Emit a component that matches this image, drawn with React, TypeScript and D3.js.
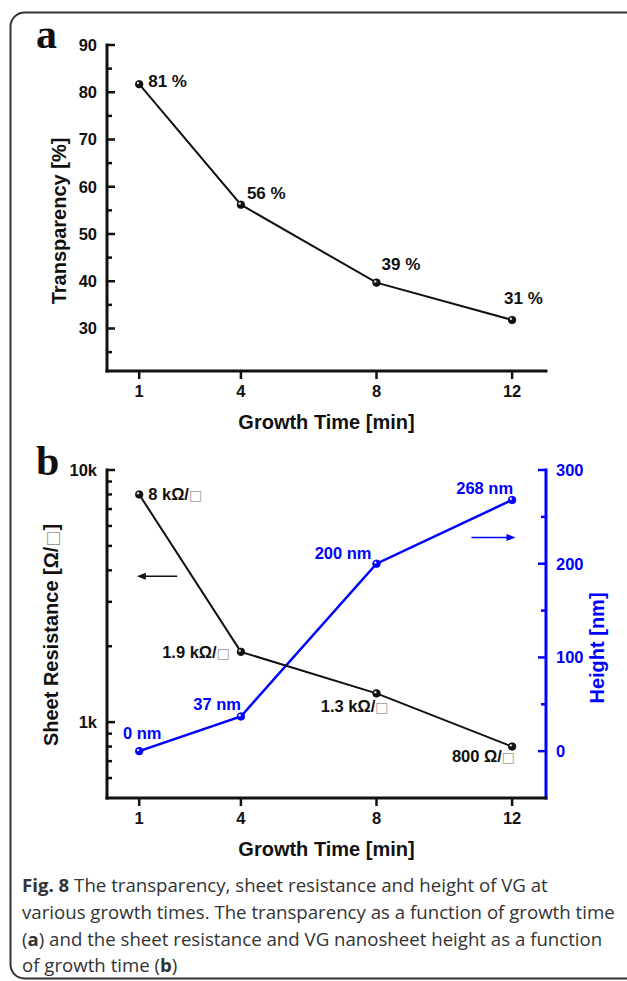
import * as d3 from 'd3'
import React, { useEffect, useRef } from 'react'

// growth times and measured values
const timeMin = [1, 4, 8, 12]
const transparency = [81.7, 56.2, 39.7, 31.8]
const transparencyLabels = ['81 %', '56 %', '39 %', '31 %']
const sheetResistance = [8000, 1900, 1300, 800]
const resistanceLabels = ['8 kΩ/', '1.9 kΩ/', '1.3 kΩ/', '800 Ω/']
const heightNm = [0, 37, 200, 268]
const heightLabels = ['0 nm', '37 nm', '200 nm', '268 nm']

// ticks
const xTicks = [1, 4, 8, 12]
const transTicks = [30, 40, 50, 60, 70, 80, 90]
const transMinor = [25, 35, 45, 55, 65, 75, 85]
const resTicks = [1000, 10000]
const resTickLabels = ['1k', '10k']
const resMinor = [600, 700, 800, 900, 2000, 3000, 4000, 5000, 6000, 7000, 8000, 9000]
const heightTicks = [0, 100, 200, 300]
const heightMinor = [50, 150, 250]

const captionLines = [
  [['Fig. 8', true], [' The transparency, sheet resistance and height of VG at', false]],
  [['various growth times. The transparency as a function of growth time', false]],
  [['(', false], ['a', true], [') and the sheet resistance and VG nanosheet height as a function', false]],
  [['of growth time (', false], ['b', true], [')', false]]
]

const FONT = "'Liberation Sans', Arial, sans-serif"
const BLUE = '#0000ff'
const INK = '#111'

export default function App() {
  const ref = useRef<SVGSVGElement>(null)

  useEffect(() => {
    document.body.style.margin = '0'
    const svg = d3.select(ref.current)
    svg.selectAll('*').remove()

    // frame
    svg.append('rect')
      .attr('x', 10.5).attr('y', 12.5)
      .attr('width', 700).attr('height', 966)
      .attr('rx', 14)
      .attr('fill', 'none').attr('stroke', '#333').attr('stroke-width', 2)

    const left = 107
    const right = 546
    const x = d3.scaleLinear().domain([0.05, 13]).range([left, right])

    const txt = (g: any, s: string, px: number, py: number, anchor: string, size: number, color = INK) =>
      g.append('text')
        .attr('x', px).attr('y', py)
        .attr('text-anchor', anchor)
        .attr('font-family', FONT).attr('font-weight', 'bold')
        .attr('font-size', size).attr('fill', color)
        .text(s)

    const xAxis = (base: number) => {
      svg.append('line')
        .attr('x1', left - 1.5).attr('x2', right + 1.5)
        .attr('y1', base).attr('y2', base)
        .attr('stroke', INK).attr('stroke-width', 3)
      xTicks.forEach(t => {
        svg.append('line')
          .attr('x1', x(t)).attr('x2', x(t))
          .attr('y1', base).attr('y2', base + 8)
          .attr('stroke', INK).attr('stroke-width', 2.5)
        txt(svg, String(t), x(t), base + 26, 'middle', 16.5)
      })
      txt(svg, 'Growth Time [min]', (left + right) / 2, base + 58, 'middle', 20)
    }

    const yAxis = (scale: any, ax: number, major: number[], labels: string[], minor: number[], dir: number, color: string) => {
      const [r0, r1] = scale.range()
      svg.append('line')
        .attr('x1', ax).attr('x2', ax)
        .attr('y1', r0 + 1.5).attr('y2', r1 - 1.5)
        .attr('stroke', color).attr('stroke-width', 3)
      major.forEach((v, i) => {
        svg.append('line')
          .attr('x1', ax).attr('x2', ax + dir * 8)
          .attr('y1', scale(v)).attr('y2', scale(v))
          .attr('stroke', color).attr('stroke-width', 2.5)
        txt(svg, labels[i], ax - dir * 10, scale(v) + 6, dir > 0 ? 'end' : 'start', 16.5, color)
      })
      minor.forEach(v => {
        svg.append('line')
          .attr('x1', ax).attr('x2', ax + dir * 5)
          .attr('y1', scale(v)).attr('y2', scale(v))
          .attr('stroke', color).attr('stroke-width', 2.5)
      })
    }

    const dots = (xs: number[], ys: number[], sy: any, color: string) => {
      xs.forEach((t, i) => {
        svg.append('circle')
          .attr('cx', x(t)).attr('cy', sy(ys[i])).attr('r', 3.8)
          .attr('fill', color).attr('stroke', color).attr('stroke-width', 0.8)
        svg.append('circle')
          .attr('cx', x(t) - 1.2).attr('cy', sy(ys[i]) - 1.2).attr('r', 1.2)
          .attr('fill', '#fff').attr('opacity', 0.85)
      })
    }

    const series = (xs: number[], ys: number[], sy: any, color: string, w: number) => {
      const line = d3.line<number>().x((_, i) => x(xs[i])).y(d => sy(d))
      svg.append('path').attr('d', line(ys)).attr('fill', 'none')
        .attr('stroke', color).attr('stroke-width', w)
      dots(xs, ys, sy, color)
    }

    const arrow = (x1: number, x2: number, py: number, color: string) => {
      const d = Math.sign(x2 - x1)
      svg.append('line')
        .attr('x1', x1).attr('x2', x2 - d * 6).attr('y1', py).attr('y2', py)
        .attr('stroke', color).attr('stroke-width', 1.6)
      svg.append('path')
        .attr('d', `M${x2},${py} L${x2 - d * 9},${py - 3.5} L${x2 - d * 9},${py + 3.5} Z`)
        .attr('fill', color)
    }

    const panelLetter = (s: string, py: number) =>
      svg.append('text').attr('x', 36).attr('y', py)
        .attr('font-family', "'Liberation Serif', 'Times New Roman', serif")
        .attr('font-weight', 'bold').attr('font-size', 42).attr('fill', INK).text(s)

    // ---- panel a
    const yA = d3.scaleLinear().domain([21, 90]).range([371, 45])
    panelLetter('a', 48)
    yAxis(yA, left, transTicks, transTicks.map(String), transMinor, 1, INK)
    xAxis(371)
    txt(svg, 'Transparency [%]', 0, 0, 'middle', 20)
      .attr('transform', `translate(66,221) rotate(-90)`)
    series(timeMin, transparency, yA, INK, 2)
    const aOff = [[9, 3], [6, -6], [5, -13], [-8, -16]]
    transparencyLabels.forEach((s, i) => {
      txt(svg, s, x(timeMin[i]) + aOff[i][0], yA(transparency[i]) + aOff[i][1], 'start', 17)
    })

    // ---- panel b
    const yR = d3.scaleLog().domain([500, 10000]).range([798, 470])
    const yH = d3.scaleLinear().domain([-50, 300]).range([798, 470])
    panelLetter('b', 475)
    yAxis(yR, left, resTicks, resTickLabels, resMinor, 1, INK)
    yAxis(yH, right, heightTicks, heightTicks.map(String), heightMinor, -1, BLUE)
    xAxis(798)

    const sq = (t: any, size: number) =>
      t.append('tspan').attr('font-family', "'DejaVu Sans', sans-serif").attr('font-weight', 'normal')
        .attr('font-size', size).attr('fill', '#9a9a9a').text('□')

    const rt = txt(svg, '', 0, 0, 'middle', 20).attr('transform', `translate(58,635) rotate(-90)`)
    rt.append('tspan').text('Sheet Resistance [Ω/')
    sq(rt, 17)
    rt.append('tspan').text(']')
    txt(svg, 'Height [nm]', 0, 0, 'middle', 20, BLUE)
      .attr('transform', `translate(604,648) rotate(-90)`)

    series(timeMin, heightNm, yH, BLUE, 2.5)
    series(timeMin, sheetResistance, yR, INK, 2)

    const rOff: [number, number, string][] = [[9, 6, 'start'], [-11, 6, 'end'], [12, 19, 'end'], [3, 15, 'end']]
    resistanceLabels.forEach((s, i) => {
      const t = txt(svg, s, x(timeMin[i]) + rOff[i][0], yR(sheetResistance[i]) + rOff[i][1], rOff[i][2], 16.5)
      sq(t, 14)
    })
    const hOff: [number, number, string][] = [[3, -12, 'middle'], [0, -6, 'end'], [-5, -5, 'end'], [1, -6, 'end']]
    heightLabels.forEach((s, i) => {
      txt(svg, s, x(timeMin[i]) + hOff[i][0], yH(heightNm[i]) + hOff[i][1], hOff[i][2], 16.5, BLUE)
    })

    arrow(x(2.12), x(0.93), yR(3790), INK)
    arrow(x(10.8), x(12.1), yH(228), BLUE)

    // ---- caption
    const cap = svg.append('g')
    const lines = captionLines.map((parts, i) => {
      const t = cap.append('text').attr('x', 22).attr('y', 892 + i * 26.8)
        .attr('font-family', "'Open Sans', sans-serif").attr('font-size', 18).attr('fill', '#333')
      parts.forEach(([s, b]) => {
        t.append('tspan').attr('font-weight', b ? 'bold' : 'normal').text(s as string)
      })
      return t
    })
    const w = (lines[1].node() as SVGTextElement).getComputedTextLength()
    const fs = 18 * 593 / w
    lines.forEach(t => t.attr('font-size', fs))
  }, [])

  return <svg ref={ref} width={627} height={981} style={{ display: 'block', background: '#fff' }} />
}
